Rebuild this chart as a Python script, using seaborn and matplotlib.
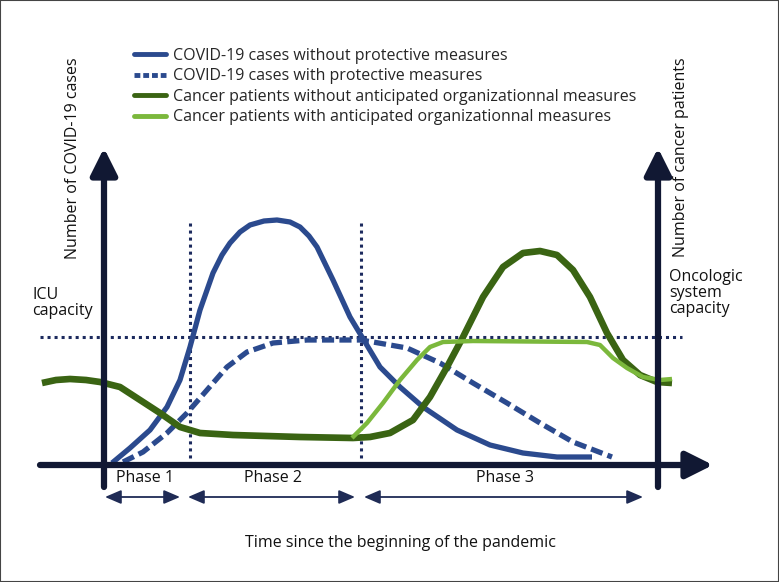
"""Schematic: COVID-19 waves vs. cancer patient load over the pandemic."""

import matplotlib.pyplot as plt
import pandas as pd
import seaborn as sns
from matplotlib.lines import Line2D

# time (arbitrary units, 0 = start of pandemic) and levels (arbitrary units)
covid_free_t = [8, 26, 46, 63, 76, 86, 96, 109, 118, 126, 136, 146, 160, 173, 186, 196, 205, 213,
                229, 246, 258, 276, 296, 319, 353, 386, 419, 453, 488]
covid_free_v = [2, 17, 35, 58, 85, 118, 155, 192, 210, 222, 233, 240, 244, 245, 243, 238, 229, 218,
                185, 148, 128, 98, 78, 58, 35, 20, 12, 8, 8]

covid_prot_t = [19, 39, 63, 83, 103, 123, 143, 169, 203, 256, 269, 303, 336, 369, 403, 436, 469, 508]
covid_prot_v = [3, 13, 32, 52, 75, 98, 113, 122, 125, 125, 123, 117, 102, 82, 62, 42, 23, 8]

cancer_no_t = [-62, -48, -34, -18, -4, 16, 36, 56, 76, 96, 129, 196, 249, 266, 286, 309, 326, 343,
               359, 379, 399, 419, 436, 453, 469, 486, 503, 519, 536, 553, 568]
cancer_no_v = [82, 85, 86, 85, 83, 78, 65, 52, 38, 32, 30, 28, 27, 28, 32, 45, 68, 98,
               128, 168, 198, 212, 214, 210, 195, 168, 132, 105, 90, 83, 82]

cancer_ant_t = [248, 263, 279, 296, 313, 326, 339, 369, 483, 496, 509, 523, 539, 556, 568]
cancer_ant_v = [27, 42, 62, 85, 105, 118, 123, 124, 123, 120, 107, 97, 88, 85, 86]

series_labels = [
    "COVID-19 cases without protective measures",
    "COVID-19 cases with protective measures",
    "Cancer patients without anticipated organizationnal measures",
    "Cancer patients with anticipated organizationnal measures",
]
phase_labels = ["Phase 1", "Phase 2", "Phase 3"]
phase_bounds = [(1, 76), (84, 251), (260, 539)]
phase_dividers = [86, 257]
capacity_level = 128

NAVY = "#111833"
DOT = "#1c2a5e"
BLUE = "#2b4a8e"
DARK_GREEN = "#3a6413"
LIGHT_GREEN = "#7bb83c"
TXT = "#111111"
FS = 11.5

sns.set_theme(style="white")
plt.rcParams["font.family"] = ["Open Sans", "DejaVu Sans"]

fig = plt.figure(figsize=(7.79, 5.82), dpi=100)
ax = fig.add_axes([0, 0, 1, 1])
ax.set_xlim(-104, 675)
ax.set_ylim(-117, 465)

# reference lines
ax.hlines(capacity_level, -64, 578, color=DOT, lw=2.2, linestyle=(0, (1, 1.3)))
ax.vlines(phase_dividers, 0, 243, color=DOT, lw=2.2, linestyle=(0, (1, 1.3)))

# axes drawn as arrows
axis_kw = dict(arrowstyle="-|>,head_width=0.45,head_length=0.9", lw=4.5, color=NAVY,
               mutation_scale=18, shrinkA=0, shrinkB=0)
ax.annotate("", xy=(0, 317), xytext=(0, -22), arrowprops=axis_kw)
ax.annotate("", xy=(554, 317), xytext=(554, -22), arrowprops=axis_kw)
ax.annotate("", xy=(609, 0), xytext=(-64, 0), arrowprops=axis_kw)

# curves
curves = [
    (covid_free_t, covid_free_v, BLUE, "-", 3.8),
    (covid_prot_t, covid_prot_v, BLUE, (0, (2.3, 1.0)), 3.8),
    (cancer_no_t, cancer_no_v, DARK_GREEN, "-", 4.8),
    (cancer_ant_t, cancer_ant_v, LIGHT_GREEN, "-", 3.2),
]
for t, v, color, ls, lw in curves:
    df = pd.DataFrame({"t": t, "v": v})
    sns.lineplot(data=df, x="t", y="v", ax=ax, color=color, lw=lw, linestyle=ls,
                 sort=False, solid_capstyle="butt", solid_joinstyle="round", legend=False)

# phase arrows
for (a, b), lab in zip(phase_bounds, phase_labels):
    ax.annotate("", xy=(b, -32), xytext=(a, -32),
                arrowprops=dict(arrowstyle="<|-|>,head_width=0.3,head_length=0.7", lw=1.3,
                                color="#1f2b55", mutation_scale=14, shrinkA=0, shrinkB=0))
    ax.text((a + b) / 2 + 2, -13, lab, ha="center", va="center", fontsize=FS, color=TXT)

ax.text(296, -78, "Time since the beginning of the pandemic", ha="center", va="center",
        fontsize=FS, color=TXT)
ax.text(-72, 178, "ICU\ncapacity", ha="left", va="top", fontsize=FS, color=TXT,
        linespacing=1.0)
ax.text(565, 196, "Oncologic\nsystem\ncapacity", ha="left", va="top", fontsize=FS,
        color=TXT, linespacing=1.0)
ax.text(-31, 206, "Number of COVID-19 cases", rotation=90, ha="center", va="bottom",
        fontsize=FS, color=TXT)
ax.text(577, 208, "Number of cancer patients", rotation=90, ha="center", va="bottom",
        fontsize=FS, color=TXT)

handles = [
    Line2D([], [], color=BLUE, lw=3.5),
    Line2D([], [], color=BLUE, lw=3.5, linestyle=(0, (1.2, 0.6))),
    Line2D([], [], color=DARK_GREEN, lw=3.5),
    Line2D([], [], color=LIGHT_GREEN, lw=3.5),
]
fig.legend(handles, series_labels, loc="upper left", bbox_to_anchor=(134 / 779, 1 - 48 / 582),
           frameon=False, fontsize=FS, handlelength=2.0, handletextpad=0.45,
           labelspacing=0.28, borderpad=0, borderaxespad=0)

ax.set_xticks([])
ax.set_yticks([])
ax.set_xlabel("")
ax.set_ylabel("")
for s in ax.spines.values():
    s.set_visible(True)
    s.set_color("#444444")
    s.set_linewidth(1.5)

fig.savefig("out.png", dpi=100)
